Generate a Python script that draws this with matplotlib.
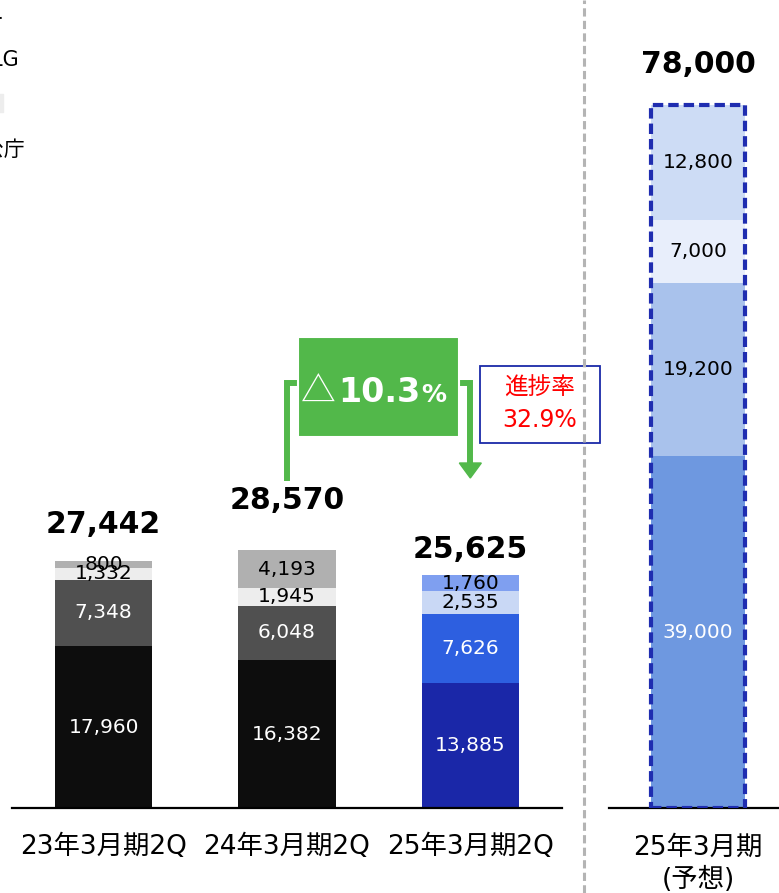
import matplotlib
matplotlib.use("Agg")
import matplotlib.pyplot as plt
from matplotlib.patches import Rectangle, Polygon
from matplotlib.lines import Line2D

plt.rcParams['font.family'] = ['DejaVu Sans', 'Noto Sans CJK JP']

### data
periods = ["23年3月期2Q", "24年3月期2Q", "25年3月期2Q"]
seg1 = [17960, 16382, 13885]
seg2 = [7348, 6048, 7626]
seg3 = [1332, 1945, 2535]
seg4 = [800, 4193, 1760]
totals = [27442, 28570, 25625]

forecast_label = "25年3月期\n(予想)"
forecast = [39000, 19200, 7000, 12800]
forecast_total = 78000

change_pct = "10.3"
progress_text = ["進捗率", "32.9%"]

### styles
layer_colors = [
    ["#0d0d0d", "#0d0d0d", "#1a27a8"],
    ["#505050", "#505050", "#2d5fe0"],
    ["#ededed", "#ededed", "#c9d8f5"],
    ["#b0b0b0", "#b0b0b0", "#7f9ff0"],
]
layer_text = ["white", "white", "black", "black"]
forecast_colors = ["#6e98e0", "#a9c2ec", "#e8eefb", "#cddcf5"]
forecast_text = ["white", "black", "black", "black"]
green = "#52b84a"

W, H = 779, 893
def fx(px):
    return px / W
def fy(py):
    return 1 - py / H

fig = plt.figure(figsize=(W / 100, H / 100), dpi=100)
ymax = 89600
bw = 0.53

ax = fig.add_axes([fx(12), fy(808), 550 / W, 808 / H])
ax.set_xlim(-0.5, 2.5)
ax.set_ylim(0, ymax)
ax2 = fig.add_axes([fx(609), fy(808), 178 / W, 808 / H])
ax2.set_xlim(-0.5, 0.5)
ax2.set_ylim(0, ymax)

for a in (ax, ax2):
    for s in ("top", "left", "right"):
        a.spines[s].set_visible(False)
    a.spines["bottom"].set_linewidth(1.6)
    a.set_yticks([])
    a.tick_params(axis="x", length=0, labelsize=19, pad=19)
    a.patch.set_alpha(0)

# past bars
x = list(range(len(periods)))
bottom = [0] * len(periods)
for j, seg in enumerate([seg1, seg2, seg3, seg4]):
    ax.bar(x, seg, bw, bottom=bottom, color=layer_colors[j], zorder=2)
    for i, v in enumerate(seg):
        ax.text(i, bottom[i] + v / 2, f"{v:,}", ha="center", va="center",
                fontsize=14.5, color=layer_text[j], zorder=3)
    bottom = [b + v for b, v in zip(bottom, seg)]

total_offsets = [36, 50, 26]
for i, t in enumerate(totals):
    ax.annotate(f"{t:,}", (i, bottom[i]), xytext=(0, total_offsets[i] * 0.72),
                textcoords="offset points", ha="center", va="center",
                fontsize=21.5, fontweight="bold")
ax.set_xticks(x)
ax.set_xticklabels(periods)

# forecast bar
fb = 0
for j, v in enumerate(forecast):
    ax2.bar(0, v, bw, bottom=fb, color=forecast_colors[j], zorder=2)
    ax2.text(0, fb + v / 2, f"{v:,}", ha="center", va="center",
             fontsize=14.5, color=forecast_text[j], zorder=3)
    fb += v
ax2.bar(0, sum(forecast), bw, fill=False, edgecolor="#1f2db0", linewidth=3,
        linestyle=(0, (2.5, 1.2)), zorder=4)
ax2.annotate(f"{forecast_total:,}", (0, fb), xytext=(0, 40 * 0.72),
             textcoords="offset points", ha="center", va="center",
             fontsize=21.5, fontweight="bold")
ax2.set_xticks([0])
ax2.set_xticklabels([forecast_label], linespacing=1.3)

# change arrow and box
def vy(py):
    return (808 - py) / 808 * ymax
def vx(px):
    return (px - 104) / 183.3

ax.plot([1, 1, vx(300)], [vy(478), vy(383), vy(383)], color=green, lw=4.3,
        solid_joinstyle="miter", clip_on=False, zorder=4)
ax.plot([vx(457), 2, 2], [vy(383), vy(383), vy(464)], color=green, lw=4.3,
        solid_joinstyle="miter", clip_on=False, zorder=4)
ax.add_patch(Polygon([[2 - 0.06, vy(463)], [2 + 0.06, vy(463)], [2, vy(478)]],
                     closed=True, color=green, clip_on=False, zorder=4))
ax.add_patch(Rectangle((vx(298), vy(437)), vx(459) - vx(298), vy(337) - vy(437),
                       facecolor=green, edgecolor="white", lw=1.5,
                       clip_on=False, zorder=5))
fig.text(fx(301), fy(403), "△", fontsize=25, color="white", va="baseline",
         ha="left", family=["Noto Sans CJK JP"], zorder=6)
fig.text(fx(338), fy(402), change_pct, fontsize=24, fontweight="bold",
         color="white", va="baseline", ha="left", zorder=6)
fig.text(fx(421), fy(402), "%", fontsize=18, fontweight="bold",
         color="white", va="baseline", ha="left", zorder=6)

# progress box
ax.add_patch(Rectangle((vx(480), vy(443)), vx(600) - vx(480), vy(366) - vy(443),
                       facecolor="none", edgecolor="#1a2aa8", lw=1.3,
                       clip_on=False, zorder=5))
fig.text(fx(540), fy(388), progress_text[0], fontsize=17, color="#ff0000",
         ha="center", va="center")
fig.text(fx(540), fy(420), progress_text[1], fontsize=17, color="#ff0000",
         ha="center", va="center")

# divider
fig.add_artist(Line2D([fx(584), fx(584)], [0, 1], color="#b4b4b4", lw=2.2,
                      linestyle=(0, (2.7, 1.4))))

# cut-off legend at the left edge
fig.text(fx(19), fy(60), "LG", fontsize=15, ha="right", va="center")
fig.text(fx(25), fy(150), "官公庁", fontsize=15, ha="right", va="center")
fig.text(fx(4), fy(20), "ー", fontsize=15, ha="right", va="center")
fig.add_artist(Rectangle((fx(-10), fy(112)), 13 / W, 18 / H, color="#ededed"))

plt.savefig("out.png", dpi=100)
